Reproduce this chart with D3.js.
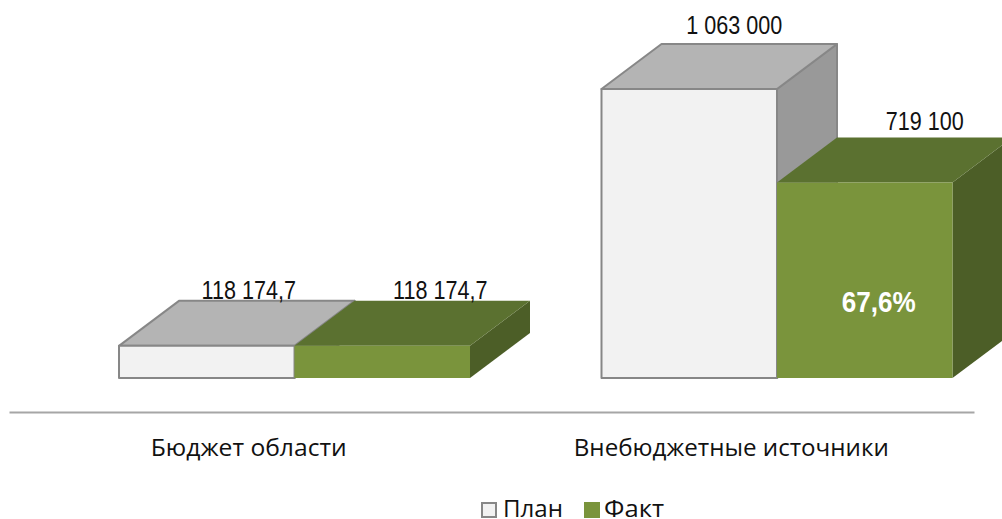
<!DOCTYPE html>
<html>
<head>
<meta charset="utf-8">
<script src="https://cdn.jsdelivr.net/npm/d3@7"></script>
<style>
  html, body { margin: 0; padding: 0; background: #fff; }
  svg { display: block; }
  .value { font-family: "Liberation Sans", Arial, sans-serif; font-size: 26px; fill: #111; }
  .share { font-family: "Liberation Sans", Arial, sans-serif; font-size: 30px; font-weight: bold; fill: #fff; }
  .tick text, .legend text { font-family: "Open Sans", sans-serif; fill: #111; }
</style>
</head>
<body>
<svg id="chart" width="1002" height="519"></svg>
<script>
const categories = ['Бюджет области', 'Внебюджетные источники'];
const seriesNames = ['План', 'Факт'];
const planValues = [118174.7, 1063000];
const factValues = [118174.7, 719100];
const planLabels = ['118 174,7', '1 063 000'];
const factLabels = ['118 174,7', '719 100'];
const shareLabels = [null, '67,6%'];

const svg = d3.select('#chart');

// fake 3d depth of the columns
const depthX = 60;
const depthY = 45;
const baseY = 378;

let x0 = d3.scaleBand().domain(categories).range([9, 974]);
let x1 = d3.scaleBand().domain(seriesNames).range([110, 461]);
let y = d3.scaleLinear().domain([0, 1063000]).range([baseY, 89]);

const looks = {
  'План': { front: '#f2f2f2', top: '#b4b4b4', side: '#999999', stroke: '#878787', width: 2 },
  'Факт': { front: '#7a943c', top: '#5b7130', side: '#4c5e27', stroke: 'none', width: 0 }
};

function drawBar(category, name, value) {
  let look = looks[name];
  let xl = x0(category) + x1(name);
  let xr = xl + x1.bandwidth();
  let yt = y(value);
  let g = svg.append('g').attr('class', 'bar');
  let face = (pts, fill) => g.append('path')
    .attr('d', d3.line()(pts) + 'Z')
    .attr('fill', fill)
    .attr('stroke', look.stroke)
    .attr('stroke-width', look.width)
    .attr('stroke-linejoin', 'round');
  face([[xr, yt], [xr + depthX, yt - depthY], [xr + depthX, baseY - depthY], [xr, baseY]], look.side);
  face([[xl, yt], [xl + depthX, yt - depthY], [xr + depthX, yt - depthY], [xr, yt]], look.top);
  face([[xl, yt], [xr, yt], [xr, baseY], [xl, baseY]], look.front);
}

categories.forEach((c, i) => {
  drawBar(c, 'План', planValues[i]);
  drawBar(c, 'Факт', factValues[i]);
});

// value labels are narrowed like the original
function addLabel(cls, text, px, py, sx) {
  svg.append('text')
    .attr('class', cls)
    .attr('text-anchor', 'middle')
    .attr('transform', `translate(${px},${py}) scale(${sx},1)`)
    .text(text);
}

const plotNudge = [[-18, -2], [-15, -10]];
const factNudge = [[-2, -2], [0, -7]];
categories.forEach((c, i) => {
  let w = x1.bandwidth();
  let px = x0(c) + x1('План') + w / 2 + depthX + plotNudge[i][0];
  addLabel('value', planLabels[i], px, y(planValues[i]) - depthY + plotNudge[i][1], 0.83);
  let fx = x0(c) + x1('Факт') + w / 2 + depthX + factNudge[i][0];
  addLabel('value', factLabels[i], fx, y(factValues[i]) - depthY + factNudge[i][1], 0.83);
  if (shareLabels[i]) {
    addLabel('share', shareLabels[i], x0(c) + x1('Факт') + w / 2 + 14, y(factValues[i] / 2) + 32, 0.87);
  }
});

// category axis
let axis = d3.axisBottom(x0).tickSize(0).tickPadding(28);
let axisG = svg.append('g').attr('transform', 'translate(0,412)').call(axis);
axisG.select('.domain').attr('stroke', '#a6a6a6').attr('stroke-width', 2);
const tickWidths = [196, 315];
axisG.selectAll('.tick text')
  .attr('font-size', 23)
  .attr('dx', -1.5)
  .attr('textLength', (_, i) => tickWidths[i])
  .attr('lengthAdjust', 'spacingAndGlyphs');

// legend
let legend = svg.append('g').attr('class', 'legend');
const legendX = [482, 584];
const legendTextX = [503, 604];
const legendWidths = [60, 60];
seriesNames.forEach((name, i) => {
  let size = looks[name].width ? 14 : 16;
  legend.append('rect')
    .attr('x', legendX[i]).attr('y', 510 - size / 2)
    .attr('width', size).attr('height', size)
    .attr('fill', looks[name].front)
    .attr('stroke', looks[name].stroke)
    .attr('stroke-width', looks[name].width);
  legend.append('text')
    .attr('x', legendTextX[i]).attr('y', 517)
    .attr('font-size', 23)
    .attr('textLength', legendWidths[i])
    .attr('lengthAdjust', 'spacingAndGlyphs')
    .text(name);
});
</script>
</body>
</html>
